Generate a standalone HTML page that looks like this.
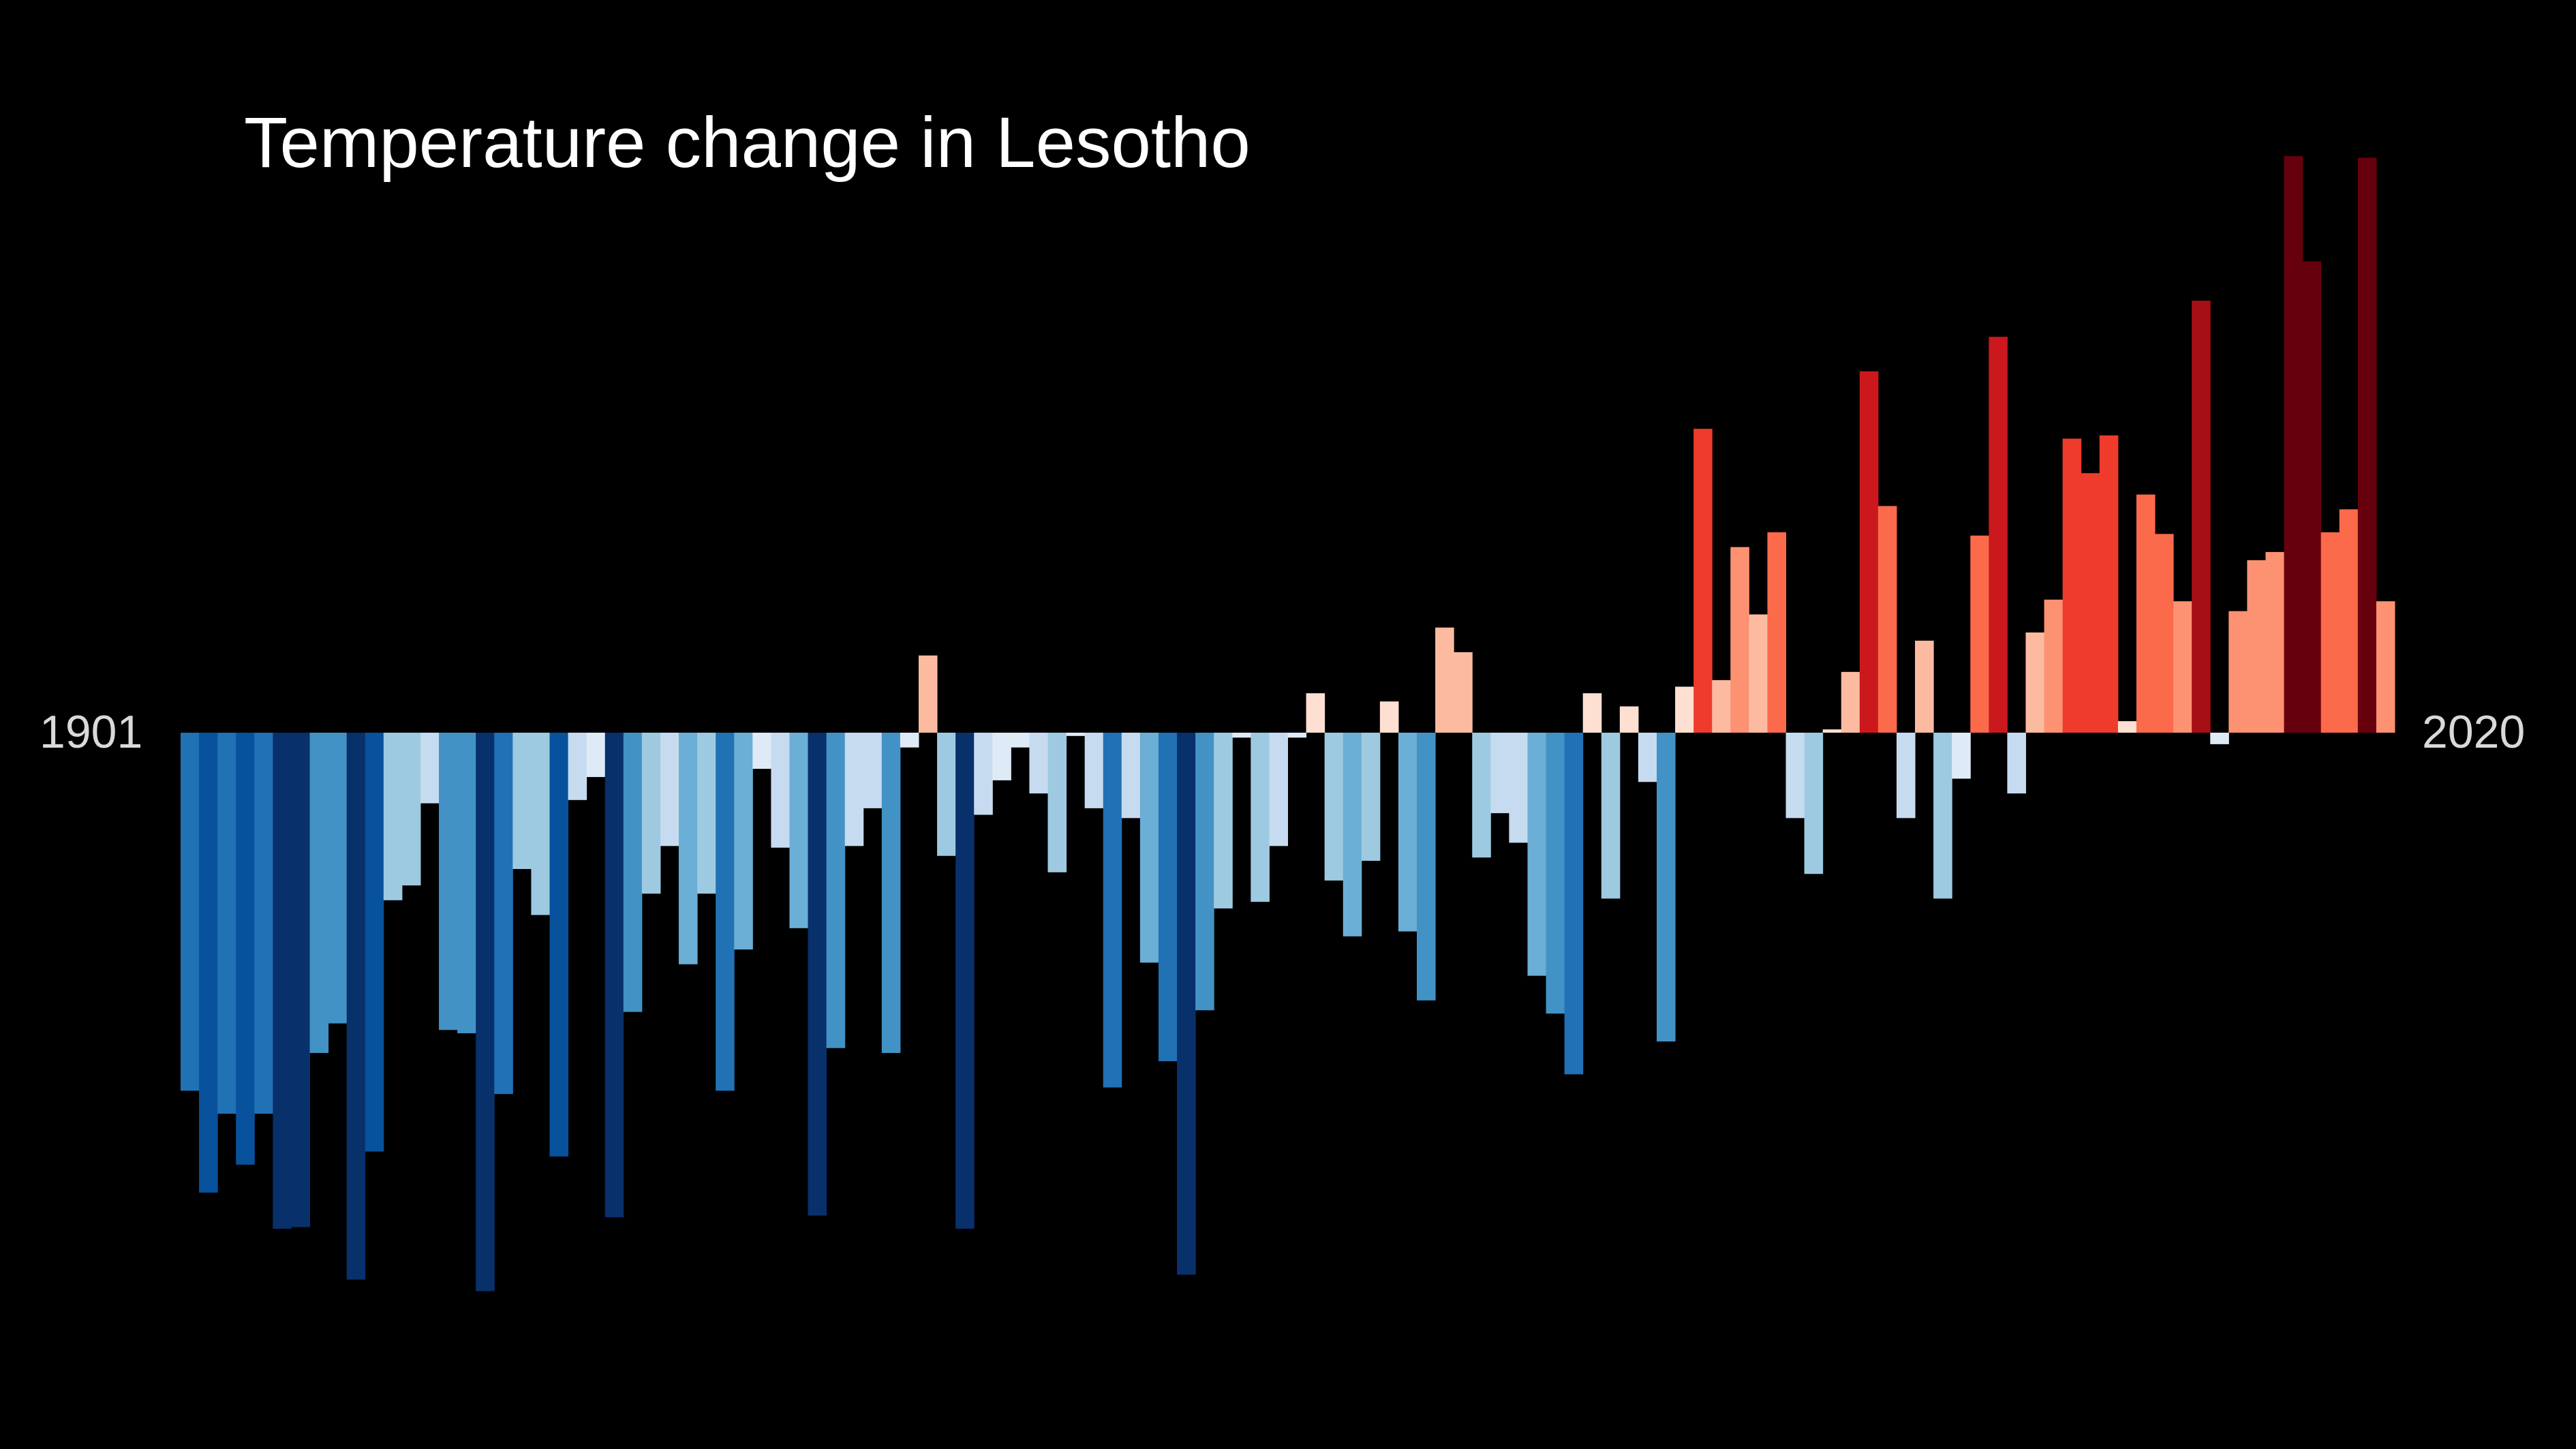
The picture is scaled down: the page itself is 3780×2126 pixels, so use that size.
<!DOCTYPE html>
<html><head><meta charset="utf-8">
<style>
html,body{margin:0;padding:0;background:#000;}
#wrap{position:relative;width:3780px;height:2126px;background:#000;overflow:hidden;font-family:"Liberation Sans",sans-serif;}
#title{position:absolute;left:358px;top:150px;font-size:105px;color:#fff;white-space:nowrap;}
.yl{position:absolute;top:1035px;font-size:68px;color:#d9d9d9;}
</style></head>
<body>
<div id="wrap">
<div id="title">Temperature change in Lesotho</div>
<div class="yl" style="left:58px">1901</div>
<div class="yl" style="left:3554px">2020</div>
<svg id="svg" width="3780" height="2126" style="position:absolute;left:0;top:0"></svg>
</div>
<script>
const startYear = 1901;
const anomalies = [-218,-280,-232,-263,-232,-302,-301,-195,-177,-333,-255,-102,-93,-43,-181,-183,-340,-220,-83,-111,-258,-41,-27,-295,-170,-98,-69,-141,-98,-218,-132,-22,-70,-119,-294,-192,-69,-46,-195,-9,47,-75,-302,-50,-29,-9,-37,-85,-2,-46,-216,-52,-140,-200,-330,-169,-107,-3,-103,-69,-3,24,-90,-124,-78,19,-121,-163,64,49,-76,-49,-67,-148,-171,-208,24,-101,16,-30,-188,28,185,32,113,72,122,-52,-86,2,37,220,138,-52,56,-101,-28,120,241,-37,61,81,179,158,181,7,145,121,80,263,-7,74,105,110,351,287,122,136,350,80];
const blues = ["#deebf7","#c6dbef","#9ecae1","#6baed6","#4292c6","#2171b5","#08519c","#08306b"];
const reds = ["#fee0d2","#fcbba1","#fc9272","#fb6a4a","#ef3b2c","#cb181d","#a50f15","#67000d"];
const x0 = 265, x1 = 3514, base = 1075, k = 2.41;
const bw = (x1 - x0) / anomalies.length;
const svg = document.getElementById('svg');
function xPos(i){return x0 + i*bw;}
function yPos(v){return base - v*k;}
function color(v){
  let idx = Math.min(7, Math.floor(Math.abs(v)/340*8 + 0.3));
  return v >= 0 ? reds[idx] : blues[idx];
}
anomalies.forEach((v,i)=>{
  const r = document.createElementNS('http://www.w3.org/2000/svg','rect');
  const y = Math.min(base, yPos(v));
  r.setAttribute('x', xPos(i));
  r.setAttribute('y', y);
  r.setAttribute('width', bw + 0.5);
  r.setAttribute('height', Math.max(1, Math.abs(yPos(v) - base)));
  r.setAttribute('fill', color(v));
  
  
  svg.appendChild(r);
});
</script>
</body></html>
